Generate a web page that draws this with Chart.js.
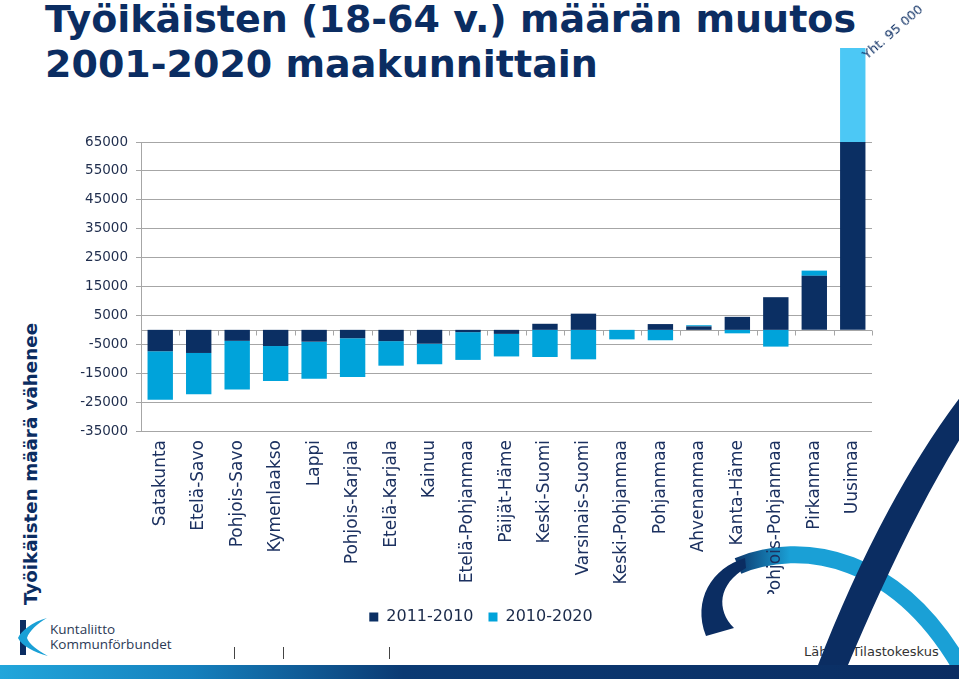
<!DOCTYPE html>
<html>
<head>
<meta charset="utf-8">
<script src="https://cdn.jsdelivr.net/npm/chart.js@4.4.0/dist/chart.umd.min.js"></script>
<style>
html, body { margin: 0; padding: 0; background: #fff; }
body { width: 959px; height: 679px; position: relative; overflow: hidden; font-family: "DejaVu Sans", sans-serif; }
#title { position: absolute; left: 45px; top: -3px; color: #0b2d62; font-weight: bold; font-size: 38px; line-height: 45px; white-space: nowrap; }
#ytitle { position: absolute; left: 30px; top: 464px; transform: translate(-50%, -50%) rotate(-90deg); color: #0b2d62; font-weight: bold; font-size: 18.3px; white-space: nowrap; }
#yht { position: absolute; left: 869px; top: 48px; font-size: 13px; line-height: 14px; color: #0b2d62; transform-origin: 0 100%; transform: rotate(-41deg); white-space: nowrap; }
#source { position: absolute; left: 804px; top: 644px; font-size: 13px; color: #333; white-space: nowrap; }
#logo { position: absolute; left: 50px; top: 622px; font-family: "Open Sans", sans-serif; font-size: 13.5px; line-height: 15px; color: #2b3a55; }
.pipe { position: absolute; top: 647px; width: 1px; height: 12px; background: #444; }
#band { position: absolute; left: 0; top: 665px; width: 959px; height: 14px; background: linear-gradient(to right, #22a6db 0%, #1580bd 20%, #0b3a73 42%, #0b2d62 100%); }
#deco { position: absolute; left: 0; top: 0; }
#chart { position: absolute; left: 0; top: 0; }
</style>
</head>
<body>
<div id="source">Lähde: Tilastokeskus</div>
<svg id="deco" width="959" height="679">
  <defs>
    <linearGradient id="arcGrad" gradientUnits="userSpaceOnUse" x1="730" y1="0" x2="790" y2="0">
      <stop offset="0" stop-color="#0b2d62"/>
      <stop offset="1" stop-color="#1aa0d6"/>
    </linearGradient>
  </defs>
  <path d="M738 566 C800 540, 900 552, 968 680" fill="none" stroke="url(#arcGrad)" stroke-width="17"/>
  <path d="M745 558 C712 568, 692 600, 706 636 L734 628 C716 610, 718 584, 746 568 Z" fill="#0b2d62"/>
  <path d="M818 665 L848 665 C880 590, 920 500, 975 415 L975 378 C905 465, 855 570, 818 665 Z" fill="#0b2d62"/>
  <rect x="20" y="620" width="6" height="35" fill="#0b2d62"/>
  <path d="M47 618 C32 622, 21 631, 18 638 C22 646, 34 652, 48 656 C37 650, 29 644, 27 638 C29 631, 38 623, 47 618 Z" fill="#1aa0d6"/>
</svg>
<div id="band"></div>
<div id="title">Työikäisten (18-64 v.) määrän muutos<br>2001-2020 maakunnittain</div>
<div id="ytitle">Työikäisten määrä vähenee</div>
<div id="logo">Kuntaliitto<br>Kommunförbundet</div>
<div class="pipe" style="left:234px"></div>
<div class="pipe" style="left:283px"></div>
<div class="pipe" style="left:389px"></div>
<canvas id="chart" width="959" height="679"></canvas>
<div id="yht">Yht. 95 000</div>
<script>
// data
const categories = ['Satakunta', 'Etelä-Savo', 'Pohjois-Savo', 'Kymenlaakso', 'Lappi', 'Pohjois-Karjala',
    'Etelä-Karjala', 'Kainuu', 'Etelä-Pohjanmaa', 'Päijät-Häme', 'Keski-Suomi', 'Varsinais-Suomi',
    'Keski-Pohjanmaa', 'Pohjanmaa', 'Ahvenanmaa', 'Kanta-Häme', 'Pohjois-Pohjanmaa', 'Pirkanmaa', 'Uusimaa'];
const change2001_2010 = [-7400, -8000, -3800, -5600, -4100, -2900, -3900, -4800, -800, -1400,
    2100, 5600, 0, 2000, 1200, 4500, 11300, 18700, 65000];
const change2010_2020 = [-16800, -14300, -16800, -12100, -12800, -13400, -8500, -7100, -9600, -7800,
    -9400, -10200, -3300, -3600, 400, -1200, -5800, 1800, 32500];
const seriesNames = ['2011-2010', '2010-2020'];
const yMin = -35000;
const yMax = 65000;
const yStep = 10000;

const navy = '#0b2f63';
const cyan = '#00a3da';
const cyanLight = '#4cc8f5';

// x axis at zero with the small category ticks
const zeroAxis = {
    id: 'zeroAxis',
    afterLayout(chart) {
        // legend sits a bit right of the plot centre in the original
        chart.legend.left += 15;
        chart.legend.right += 15;
    },
    beforeDatasetsDraw(chart) {
        const { ctx, chartArea, scales } = chart;
        const y0 = Math.round(scales.y.getPixelForValue(0)) + 0.5;
        const step = (chartArea.right - chartArea.left) / categories.length;
        ctx.save();
        ctx.strokeStyle = '#a6a6a6';
        ctx.lineWidth = 1;
        ctx.beginPath();
        ctx.moveTo(chartArea.left, y0);
        ctx.lineTo(chartArea.right, y0);
        for (let i = 1; i <= categories.length; i++) {
            const x = Math.round(chartArea.left + step * i) + 0.5;
            ctx.moveTo(x, y0);
            ctx.lineTo(x, y0 + 5);
        }
        ctx.stroke();
        ctx.restore();
    }
};

Chart.defaults.font.family = '"DejaVu Sans", sans-serif';

new Chart(document.getElementById('chart'), {
    type: 'bar',
    data: {
        labels: categories,
        datasets: [
            {
                label: seriesNames[0],
                data: change2001_2010,
                backgroundColor: navy,
                barPercentage: 0.66,
                categoryPercentage: 1,
                clip: false
            },
            {
                label: seriesNames[1],
                data: change2010_2020,
                backgroundColor: (c) => c.dataIndex === categories.length - 1 ? cyanLight : cyan,
                barPercentage: 0.66,
                categoryPercentage: 1,
                clip: false
            }
        ]
    },
    options: {
        responsive: false,
        animation: false,
        devicePixelRatio: 1,
        layout: { padding: { left: 60, right: 87, top: 142, bottom: 44 } },
        plugins: {
            tooltip: { enabled: false },
            legend: {
                position: 'bottom',
                labels: {
                    color: '#1a2a4a',
                    font: { size: 16 },
                    boxWidth: 9,
                    boxHeight: 9,
                    padding: 15
                }
            }
        },
        scales: {
            x: {
                stacked: true,
                grid: { display: false, drawTicks: false },
                border: { display: false },
                ticks: {
                    color: '#1c3160',
                    font: { size: 17 },
                    minRotation: 90,
                    maxRotation: 90,
                    padding: 9,
                    autoSkip: false
                },
                afterFit: (scale) => { scale.height = 163; }
            },
            y: {
                stacked: true,
                min: yMin,
                max: yMax,
                grid: { color: '#a6a6a6', tickLength: 5 },
                border: { display: true, color: '#a6a6a6' },
                ticks: {
                    stepSize: yStep,
                    color: '#1f2d4d',
                    font: { size: 13.5 },
                    padding: 8,
                    callback: (v) => String(v)
                },
                afterFit: (scale) => { scale.width = 81; }
            }
        }
    },
    plugins: [zeroAxis]
});
</script>
</body>
</html>
